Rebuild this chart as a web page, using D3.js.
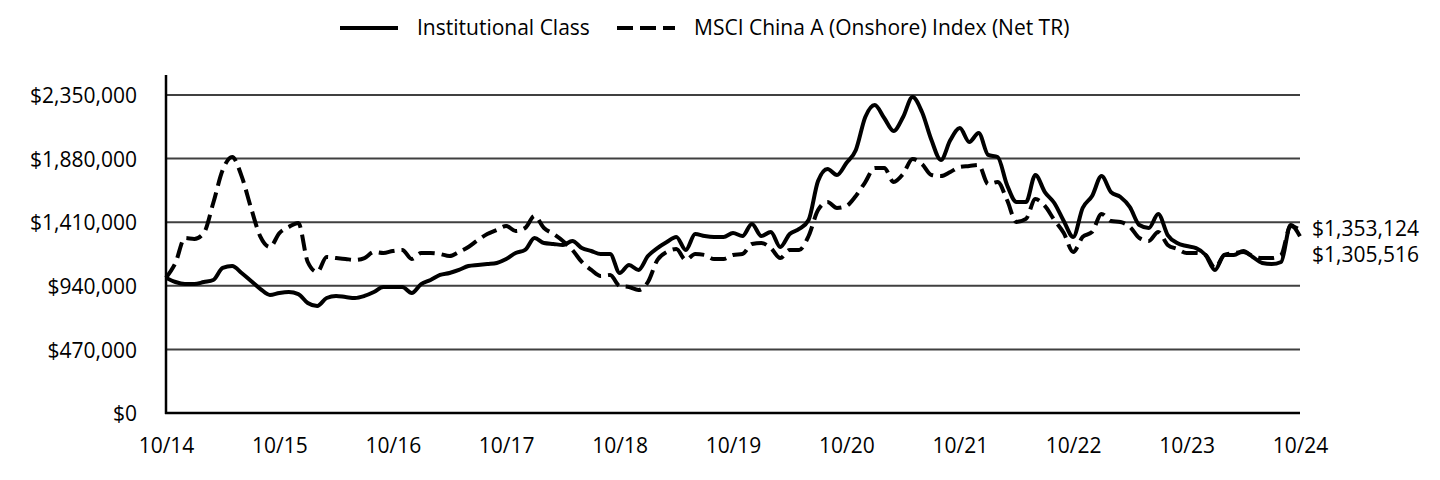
<!DOCTYPE html>
<html>
<head>
<meta charset="utf-8">
<script src="https://cdn.jsdelivr.net/npm/d3@7"></script>
<style>
  html, body { margin: 0; padding: 0; background: #fff; }
  svg { display: block; font-family: "Open Sans", sans-serif; }
</style>
</head>
<body>
<svg id="chart" width="1440" height="480"></svg>
<script>
// ---- Data (monthly, 10/2014 .. 10/2024, values in $) ----
const seriesNames = ["Institutional Class", "MSCI China A (Onshore) Index (Net TR)"];

const institutional = [
  1000000, 968000, 953000, 953000, 968000, 983000, 1072000, 1086000, 1035000, 975000, 916000, 872000,
  887000, 894000, 879000, 813000, 791000, 850000, 865000, 857000, 850000, 865000, 894000, 931000,
  931000, 931000, 887000, 953000, 983000, 1020000, 1035000, 1057000, 1086000, 1094000, 1101000, 1109000,
  1138000, 1182000, 1205000, 1293000, 1256000, 1249000, 1242000, 1271000, 1219000, 1197000, 1175000, 1175000,
  1035000, 1094000, 1057000, 1160000, 1219000, 1264000, 1301000, 1205000, 1323000, 1308000, 1301000, 1301000,
  1330000, 1308000, 1397000, 1308000, 1338000, 1227000, 1323000, 1360000, 1426000, 1714000, 1803000, 1759000,
  1848000, 1944000, 2187000, 2276000, 2180000, 2084000, 2187000, 2335000, 2224000, 2017000, 1870000, 2017000,
  2106000, 2003000, 2069000, 1907000, 1892000, 1685000, 1559000, 1559000, 1759000, 1633000, 1552000, 1419000,
  1301000, 1515000, 1604000, 1751000, 1633000, 1596000, 1522000, 1389000, 1367000, 1471000, 1315000, 1256000,
  1234000, 1219000, 1168000, 1057000, 1168000, 1168000, 1197000, 1153000, 1109000, 1101000, 1116000, 1389000,
  1305516
];

const msciChinaA = [
  1000000, 1109000, 1293000, 1286000, 1330000, 1552000, 1796000, 1892000, 1751000, 1515000, 1301000, 1227000,
  1330000, 1375000, 1404000, 1116000, 1042000, 1153000, 1145000, 1138000, 1131000, 1145000, 1190000, 1182000,
  1197000, 1205000, 1138000, 1182000, 1182000, 1175000, 1160000, 1190000, 1227000, 1278000, 1323000, 1352000,
  1382000, 1345000, 1367000, 1456000, 1367000, 1323000, 1271000, 1205000, 1116000, 1057000, 1012000, 1020000,
  939000, 931000, 909000, 968000, 1131000, 1190000, 1212000, 1131000, 1175000, 1168000, 1138000, 1138000,
  1168000, 1175000, 1249000, 1256000, 1219000, 1145000, 1205000, 1205000, 1308000, 1500000, 1559000, 1515000,
  1530000, 1604000, 1707000, 1811000, 1811000, 1707000, 1766000, 1877000, 1840000, 1759000, 1751000, 1781000,
  1818000, 1825000, 1833000, 1692000, 1707000, 1574000, 1411000, 1434000, 1581000, 1530000, 1426000, 1330000,
  1190000, 1301000, 1338000, 1471000, 1419000, 1411000, 1375000, 1293000, 1271000, 1338000, 1242000, 1212000,
  1182000, 1182000, 1168000, 1072000, 1168000, 1182000, 1190000, 1160000, 1145000, 1145000, 1168000, 1382000,
  1353124
];

const xTickMonths = [0, 12, 24, 36, 48, 60, 72, 84, 96, 108, 120];
const xTickLabels = ["10/14", "10/15", "10/16", "10/17", "10/18", "10/19", "10/20", "10/21", "10/22", "10/23", "10/24"];
const yTicks = [0, 470000, 940000, 1410000, 1880000, 2350000];
const endLabels = ["$1,353,124", "$1,305,516"];

(function () {
  const svg = d3.select("#chart");
  const mLeft = 166, mRight = 1300, mTop = 95, mBottom = 413;
  const fs = 21;

  const x = d3.scaleLinear().domain([0, 120]).range([mLeft, mRight]);
  const y = d3.scaleLinear().domain([0, 2350000]).range([mBottom, mTop]);
  const fmt = d3.format("$,");

  // Gridlines
  svg.append("g")
    .selectAll("line")
    .data(yTicks.filter(d => d > 0))
    .join("line")
    .attr("x1", mLeft).attr("x2", mRight)
    .attr("y1", d => y(d)).attr("y2", d => y(d))
    .attr("stroke", "#404040").attr("stroke-width", 2);

  // Y axis labels
  const yAxis = d3.axisLeft(y).tickValues(yTicks).tickFormat(fmt).tickSize(0).tickPadding(0);
  const gy = svg.append("g").attr("transform", `translate(${mLeft - 29},1)`).call(yAxis);
  gy.select(".domain").remove();
  gy.selectAll("text").attr("font-size", fs).attr("fill", "#000").attr("font-family", "Open Sans");

  // X axis labels
  const xAxis = d3.axisBottom(x).tickValues(xTickMonths).tickFormat((d, i) => xTickLabels[i]).tickSize(0).tickPadding(0);
  const gx = svg.append("g").attr("transform", `translate(0,${mBottom + 25})`).call(xAxis);
  gx.select(".domain").remove();
  gx.selectAll("text").attr("font-size", fs).attr("fill", "#000").attr("font-family", "Open Sans");

  // Axis lines
  svg.append("line").attr("x1", mLeft).attr("x2", mLeft).attr("y1", 75).attr("y2", mBottom + 1)
    .attr("stroke", "#000").attr("stroke-width", 2.5);
  svg.append("line").attr("x1", mLeft - 1).attr("x2", mRight).attr("y1", mBottom).attr("y2", mBottom)
    .attr("stroke", "#000").attr("stroke-width", 2.5);

  // Lines
  const line = d3.line().x((d, i) => x(i)).y(d => y(d)).curve(d3.curveMonotoneX);

  svg.append("path").datum(msciChinaA)
    .attr("d", line).attr("fill", "none").attr("stroke", "#000")
    .attr("stroke-width", 4).attr("stroke-dasharray", "16,7");

  svg.append("path").datum(institutional)
    .attr("d", line).attr("fill", "none").attr("stroke", "#000")
    .attr("stroke-width", 4).attr("stroke-linejoin", "round");

  // End labels
  svg.append("text").attr("x", mRight + 12).attr("y", 229).attr("dy", "0.35em")
    .attr("font-size", fs).text(endLabels[0]);
  svg.append("text").attr("x", mRight + 12).attr("y", 255).attr("dy", "0.35em")
    .attr("font-size", fs).text(endLabels[1]);

  // Legend
  const lg = svg.append("g");
  lg.append("line").attr("x1", 340).attr("x2", 398).attr("y1", 28).attr("y2", 28)
    .attr("stroke", "#000").attr("stroke-width", 4);
  lg.append("text").attr("x", 417).attr("y", 28).attr("dy", "0.35em").attr("font-size", fs).text(seriesNames[0]);
  lg.append("line").attr("x1", 617).attr("x2", 675).attr("y1", 28).attr("y2", 28)
    .attr("stroke", "#000").attr("stroke-width", 4).attr("stroke-dasharray", "16,7");
  lg.append("text").attr("x", 694).attr("y", 28).attr("dy", "0.35em").attr("font-size", fs).text(seriesNames[1]);
})();
</script>
</body>
</html>
